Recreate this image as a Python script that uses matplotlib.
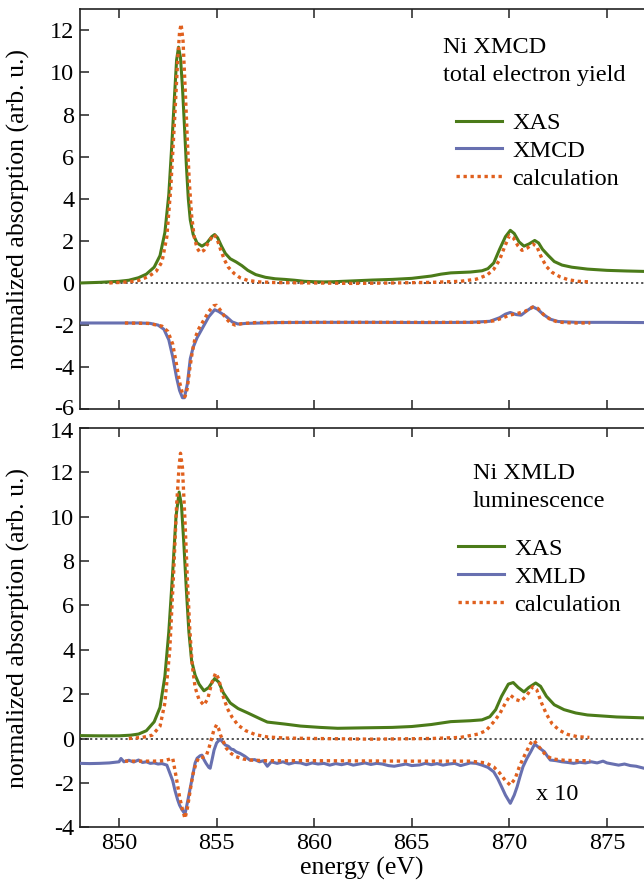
import matplotlib
matplotlib.use("Agg")
import matplotlib.pyplot as plt
from matplotlib import font_manager
from matplotlib.transforms import ScaledTranslation

_avail = set(f.name for f in font_manager.fontManager.ttflist)
_serif = next((n for n in ['Liberation Serif', 'Tinos', 'Times New Roman', 'TeX Gyre Termes',
                           'Nimbus Roman', 'STIXGeneral'] if n in _avail), 'DejaVu Serif')
plt.rcParams['font.family'] = [_serif, 'DejaVu Serif']
plt.rcParams['axes.unicode_minus'] = False

FS = 17.5
GREEN = '#4b7b19'
BLUE = '#6870b0'
ORANGE = '#e0601e'

# ---------------- top panel: Ni XMCD, total electron yield ----------------
xmcd_xas_e = [848.0, 849.0, 850.0, 850.5, 851.0, 851.4, 851.8, 852.1, 852.35, 852.55, 852.7, 852.85,
              852.95, 853.05, 853.15, 853.25, 853.35, 853.45, 853.55, 853.65, 853.8, 854.0, 854.25,
              854.5, 854.75, 854.9, 855.05, 855.25, 855.45, 855.7, 856.0, 856.3, 856.6, 857.0, 857.5,
              858.0, 858.5, 859.0, 859.5, 860.0, 860.5, 861.0, 862.0, 863.0, 864.0, 865.0, 866.0,
              866.5, 867.0, 867.5, 868.0, 868.6, 868.9, 869.2, 869.5, 869.8, 870.05, 870.25, 870.5,
              870.75, 871.0, 871.3, 871.5, 871.7, 872.0, 872.3, 872.7, 873.2, 874.0, 875.0, 876.0, 876.9]
xmcd_xas_v = [0.0, 0.03, 0.08, 0.13, 0.25, 0.42, 0.75, 1.3, 2.4, 4.2, 6.5, 9.0,
              10.6, 11.2, 10.7, 9.3, 7.5, 5.6, 4.0, 3.0, 2.3, 1.9, 1.75,
              1.9, 2.2, 2.3, 2.15, 1.75, 1.4, 1.15, 1.0, 0.82, 0.6, 0.4, 0.27,
              0.2, 0.17, 0.13, 0.08, 0.06, 0.05, 0.06, 0.1, 0.14, 0.17, 0.22, 0.33,
              0.42, 0.48, 0.5, 0.52, 0.58, 0.68, 0.95, 1.6, 2.2, 2.5, 2.35, 1.95,
              1.75, 1.85, 2.02, 1.9, 1.6, 1.3, 1.02, 0.85, 0.75, 0.66, 0.6, 0.57, 0.55]

xmcd_xas_calc_e = [849.5, 850.5, 851.0, 851.5, 851.9, 852.2, 852.45, 852.65, 852.85, 853.0, 853.1,
                   853.18, 853.28, 853.4, 853.5, 853.6, 853.72, 853.85, 854.0, 854.15, 854.35, 854.6,
                   854.85, 855.0, 855.2, 855.4, 855.6, 855.9, 856.2, 856.6, 857.2, 858.0, 860.0, 862.0,
                   864.0, 866.0, 867.5, 868.3, 868.85, 869.2, 869.5, 869.75, 870.0, 870.2, 870.45,
                   870.65, 870.9, 871.2, 871.4, 871.65, 871.9, 872.2, 872.6, 873.0, 873.5, 874.15]
xmcd_xas_calc_v = [0.0, 0.05, 0.12, 0.3, 0.55, 1.0, 2.2, 4.5, 7.8, 10.5, 11.9,
                   12.3, 11.5, 9.0, 6.8, 4.8, 3.2, 2.2, 1.65, 1.45, 1.55, 1.95,
                   2.3, 2.15, 1.6, 1.1, 0.75, 0.45, 0.25, 0.12, 0.05, 0.02, 0.0, -0.02,
                   0.0, 0.03, 0.08, 0.18, 0.37, 0.65, 1.1, 1.7, 2.25, 2.15, 1.75,
                   1.55, 1.65, 1.85, 1.75, 1.2, 0.78, 0.5, 0.29, 0.16, 0.08, 0.05]

xmcd_e = [848.0, 849.0, 850.0, 851.0, 851.6, 852.0, 852.3, 852.55, 852.75, 852.95, 853.1, 853.25,
          853.35, 853.5, 853.65, 853.8, 854.0, 854.3, 854.6, 854.9, 855.1, 855.5, 855.8, 856.1,
          856.5, 858.0, 860.0, 863.0, 866.0, 868.0, 869.0, 869.5, 869.8, 870.05, 870.35, 870.6,
          870.9, 871.2, 871.45, 871.75, 872.1, 872.5, 873.5, 875.0, 876.9]
xmcd_v = [-1.9, -1.9, -1.9, -1.9, -1.92, -2.0, -2.2, -2.7, -3.5, -4.5, -5.1, -5.45,
          -5.45, -4.8, -3.6, -3.05, -2.6, -2.1, -1.6, -1.27, -1.35, -1.6, -1.85, -1.95,
          -1.92, -1.88, -1.87, -1.87, -1.88, -1.87, -1.82, -1.65, -1.48, -1.4, -1.5, -1.53,
          -1.32, -1.13, -1.25, -1.5, -1.72, -1.83, -1.87, -1.87, -1.88]

xmcd_calc_e = [850.3, 851.5, 852.2, 852.5, 852.75, 852.95, 853.1, 853.25, 853.38, 853.5, 853.62,
               853.75, 853.9, 854.1, 854.35, 854.6, 854.85, 855.0, 855.2, 855.45, 855.7, 855.95,
               856.3, 857.0, 860.0, 865.0, 868.5, 869.2, 869.6, 870.0, 870.4, 870.8, 871.2, 871.45,
               871.75, 872.1, 872.5, 873.2, 874.15]
xmcd_calc_v = [-1.9, -1.92, -2.05, -2.3, -2.9, -3.9, -4.7, -5.25, -5.4, -5.0, -4.1,
               -3.3, -2.6, -2.15, -1.75, -1.35, -1.08, -1.06, -1.3, -1.65, -1.9, -2.0,
               -1.93, -1.88, -1.87, -1.87, -1.87, -1.8, -1.68, -1.53, -1.45, -1.35, -1.15, -1.2,
               -1.5, -1.73, -1.86, -1.9, -1.9]

# ---------------- bottom panel: Ni XMLD, luminescence ----------------
xmld_xas_e = [848.0, 849.0, 850.0, 850.6, 851.0, 851.4, 851.8, 852.1, 852.35, 852.55, 852.75, 852.92,
              853.08, 853.2, 853.32, 853.45, 853.58, 853.72, 853.9, 854.1, 854.35, 854.6, 854.9,
              855.1, 855.35, 855.7, 856.1, 856.6, 857.2, 857.6, 858.5, 859.3, 860.3, 861.2, 862.5,
              864.0, 865.0, 866.0, 867.0, 868.0, 868.6, 869.0, 869.3, 869.6, 869.95, 870.2, 870.45,
              870.75, 871.0, 871.35, 871.6, 871.9, 872.3, 872.8, 873.4, 874.0, 875.5, 876.9]
xmld_xas_v = [0.13, 0.12, 0.12, 0.15, 0.2, 0.35, 0.75, 1.4, 2.8, 4.8, 7.5, 10.0,
              11.1, 10.5, 8.8, 6.7, 4.8, 3.5, 2.85, 2.45, 2.15, 2.3, 2.7,
              2.55, 2.05, 1.6, 1.35, 1.15, 0.9, 0.74, 0.65, 0.56, 0.5, 0.46, 0.48,
              0.5, 0.54, 0.63, 0.76, 0.8, 0.84, 0.98, 1.3, 1.9, 2.45, 2.52, 2.3,
              2.1, 2.3, 2.5, 2.35, 1.9, 1.52, 1.3, 1.15, 1.06, 0.97, 0.93]

xmld_xas_calc_e = [850.5, 851.2, 851.7, 852.1, 852.35, 852.6, 852.8, 852.95, 853.08, 853.15, 853.25,
                   853.38, 853.5, 853.62, 853.75, 853.9, 854.1, 854.35, 854.55, 854.75, 854.95, 855.1,
                   855.3, 855.55, 855.8, 856.1, 856.5, 857.0, 857.6, 858.5, 860.0, 863.0, 866.0, 867.5,
                   868.4, 868.8, 869.2, 869.5, 869.8, 870.05, 870.35, 870.6, 870.9, 871.2, 871.4,
                   871.65, 871.9, 872.2, 872.6, 873.0, 873.5, 874.1]
xmld_xas_calc_v = [0.0, 0.05, 0.15, 0.55, 1.6, 4.0, 7.5, 10.5, 12.3, 12.85, 12.2,
                   9.8, 7.2, 5.0, 3.3, 2.3, 1.75, 1.5, 1.8, 2.5, 2.95, 2.7,
                   2.0, 1.35, 0.95, 0.6, 0.35, 0.17, 0.07, 0.02, 0.0, -0.03, 0.0, 0.05,
                   0.2, 0.35, 0.75, 1.1, 1.6, 1.95, 1.75, 1.68, 1.95, 2.33, 2.2,
                   1.6, 1.1, 0.65, 0.35, 0.18, 0.08, 0.05]

xmld_e = [848.0, 848.5, 849.0, 849.5, 850.0, 850.1, 850.25, 850.5, 850.75, 851.0, 851.2, 851.4,
          851.6, 851.8, 852.0, 852.2, 852.45, 852.6, 852.75, 852.87, 853.0, 853.1, 853.22, 853.38,
          853.5, 853.6, 853.7, 853.8, 853.9, 854.0, 854.15, 854.25, 854.35, 854.46, 854.6, 854.67,
          854.78, 854.87, 855.0, 855.18, 855.3, 855.44, 855.6, 855.75, 855.86, 856.0, 856.2, 856.45,
          856.7, 856.95, 857.2, 857.4, 857.6, 857.8, 858.1, 858.4, 858.7, 859.0, 859.3, 859.6,
          859.9, 860.2, 860.5, 860.8, 861.1, 861.4, 861.7, 862.0, 862.3, 862.6, 862.9, 863.2,
          863.5, 863.8, 864.1, 864.4, 864.7, 865.0, 865.4, 865.7, 866.0, 866.3, 866.6, 866.9,
          867.2, 867.5, 867.8, 868.0, 868.3, 868.6, 868.9, 869.2, 869.4, 869.6, 869.8, 870.05,
          870.25, 870.4, 870.55, 870.7, 870.9, 871.1, 871.3, 871.5, 871.8, 871.95, 872.1, 872.4,
          872.7, 873.0, 873.3, 873.6, 873.9, 874.2, 874.5, 874.8, 875.0, 875.3, 875.6, 875.9,
          876.2, 876.5, 876.9]
xmld_v = [-1.12, -1.13, -1.12, -1.1, -1.05, -0.9, -1.05, -0.98, -1.06, -0.97, -1.08, -1.05,
          -1.12, -1.1, -1.15, -1.13, -1.2, -1.55, -1.9, -2.35, -2.75, -3.0, -3.2, -3.4,
          -2.9, -2.45, -2.0, -1.55, -1.1, -0.89, -0.78, -0.75, -0.95, -1.12, -1.3, -1.34,
          -0.9, -0.52, -0.2, -0.03, -0.15, -0.29, -0.35, -0.48, -0.5, -0.6, -0.67, -0.8,
          -0.97, -0.95, -1.05, -1.0, -1.25, -1.05, -1.12, -1.05, -1.15, -1.08, -1.1, -1.18,
          -1.1, -1.15, -1.12, -1.2, -1.13, -1.18, -1.12, -1.2, -1.15, -1.1, -1.17, -1.12,
          -1.15, -1.22, -1.25, -1.2, -1.15, -1.22, -1.19, -1.12, -1.18, -1.13, -1.2, -1.15,
          -1.12, -1.22, -1.15, -1.1, -1.12, -1.2, -1.3, -1.5, -1.8, -2.17, -2.55, -2.92,
          -2.55, -2.17, -1.7, -1.27, -0.9, -0.59, -0.25, -0.4, -0.6, -0.8, -0.97, -1.0,
          -1.05, -1.08, -1.12, -1.07, -1.1, -1.05, -1.1, -1.02, -1.1, -1.15, -1.2, -1.15,
          -1.22, -1.25, -1.34]

xmld_calc_e = [850.3, 851.0, 851.8, 852.3, 852.6, 852.75, 852.9, 853.0, 853.1, 853.25, 853.38,
               853.5, 853.6, 853.7, 853.8, 853.95, 854.1, 854.3, 854.46, 854.6, 854.72, 854.85,
               855.0, 855.1, 855.2, 855.35, 855.5, 855.75, 856.0, 856.35, 856.7, 857.5, 860.0,
               865.0, 868.0, 868.8, 869.2, 869.5, 869.8, 870.05, 870.3, 870.5, 870.7, 870.9,
               871.1, 871.25, 871.45, 871.65, 871.9, 872.2, 872.8, 873.5, 874.15]
xmld_calc_v = [-1.02, -1.02, -1.02, -1.0, -0.93, -0.88, -1.6, -2.1, -2.62, -3.2, -3.6,
               -3.15, -2.6, -2.05, -1.57, -1.1, -0.85, -0.85, -0.8, -0.45, -0.07, 0.35,
               0.62, 0.45, 0.16, -0.15, -0.44, -0.68, -0.82, -0.92, -0.97, -1.0, -1.0,
               -1.02, -1.02, -1.1, -1.28, -1.55, -1.9, -2.1, -1.8, -1.3, -0.9, -0.55,
               -0.2, -0.07, -0.3, -0.52, -0.78, -0.92, -0.98, -1.0, -1.0]

xticks = [850, 855, 860, 865, 870, 875]
top_yticks = [-6, -4, -2, 0, 2, 4, 6, 8, 10, 12]
bot_yticks = [-4, -2, 0, 2, 4, 6, 8, 10, 12, 14]

W, H = 644, 880
fig = plt.figure(figsize=(W / 100, H / 100), dpi=100)

def axes_px(left, top, right, bottom):
    return fig.add_axes([left / W, 1 - bottom / H, (right - left) / W, (bottom - top) / H])

ax1 = axes_px(80, 9.3, 644, 409.3)
ax2 = axes_px(80, 427.7, 644, 827.3)

def style(ax, yticks, ylim, show_xlabels):
    ax.set_xlim(848, 876.9)
    ax.set_ylim(*ylim)
    ax.set_xticks(xticks)
    ax.set_yticks(yticks)
    ax.spines['right'].set_visible(False)
    for s in ['left', 'top', 'bottom']:
        ax.spines[s].set_linewidth(1.2)
        ax.spines[s].set_color('#222222')
    ax.tick_params(axis='both', direction='in', length=6.5, width=1.1, labelsize=FS,
                   color='#222222', top=True, right=False, pad=4)
    if not show_xlabels:
        ax.tick_params(axis='x', labelbottom=False)
    ax.set_ylabel('normalized absorption (arb. u.)', fontsize=18.5)
    ax.yaxis.set_label_coords(-0.089, 0.5)
    ax.axhline(0, color='#444444', lw=1.3, ls=(0, (1.2, 1.6)), zorder=1)

style(ax1, top_yticks, (-6, 13), False)
style(ax2, bot_yticks, (-4, 14), True)

# nudge the two adjacent tick labels at the panel junction apart slightly
for lab, dy in ((ax1.get_yticklabels()[0], 2.5), (ax2.get_yticklabels()[-1], -2.5)):
    lab.set_transform(lab.get_transform() + ScaledTranslation(0, dy / 100, fig.dpi_scale_trans))

lw_exp = 2.2
lw_calc = 2.4
dot = (0, (1, 1.1))

l1, = ax1.plot(xmcd_xas_e, xmcd_xas_v, color=GREEN, lw=lw_exp, label='XAS', zorder=3)
l2, = ax1.plot(xmcd_e, xmcd_v, color=BLUE, lw=lw_exp, label='XMCD', zorder=3)
l3, = ax1.plot(xmcd_xas_calc_e, xmcd_xas_calc_v, color=ORANGE, lw=lw_calc, ls=dot,
               label='calculation', zorder=4)
ax1.plot(xmcd_calc_e, xmcd_calc_v, color=ORANGE, lw=lw_calc, ls=dot, zorder=4)

m1, = ax2.plot(xmld_xas_e, xmld_xas_v, color=GREEN, lw=lw_exp, label='XAS', zorder=3)
m2, = ax2.plot(xmld_e, xmld_v, color=BLUE, lw=lw_exp, label='XMLD', zorder=3)
m3, = ax2.plot(xmld_xas_calc_e, xmld_xas_calc_v, color=ORANGE, lw=lw_calc, ls=dot,
               label='calculation', zorder=4)
ax2.plot(xmld_calc_e, xmld_calc_v, color=ORANGE, lw=lw_calc, ls=dot, zorder=4)

ax2.set_xlabel('energy (eV)', fontsize=18.5, labelpad=2)

ax1.text(0.6445, 0.89, 'Ni XMCD', transform=ax1.transAxes, fontsize=FS, va='baseline')
ax1.text(0.6445, 0.821, 'total electron yield', transform=ax1.transAxes, fontsize=FS, va='baseline')
ax2.text(0.6968, 0.8716, 'Ni XMLD', transform=ax2.transAxes, fontsize=FS, va='baseline')
ax2.text(0.6968, 0.8023, 'luminescence', transform=ax2.transAxes, fontsize=FS, va='baseline')
ax2.text(0.8085, 0.0683, 'x 10', transform=ax2.transAxes, fontsize=FS, va='baseline')

leg_kw = dict(frameon=False, fontsize=FS, loc='upper left', borderaxespad=0, borderpad=0,
              handlelength=1.9, handletextpad=0.42, labelspacing=0.24)
ax1.legend(handles=[l1, l2, l3], bbox_to_anchor=(0.667, 0.743), **leg_kw)
ax2.legend(handles=[m1, m2, m3], bbox_to_anchor=(0.670, 0.724), **leg_kw)

fig.savefig('out.png', dpi=100)
